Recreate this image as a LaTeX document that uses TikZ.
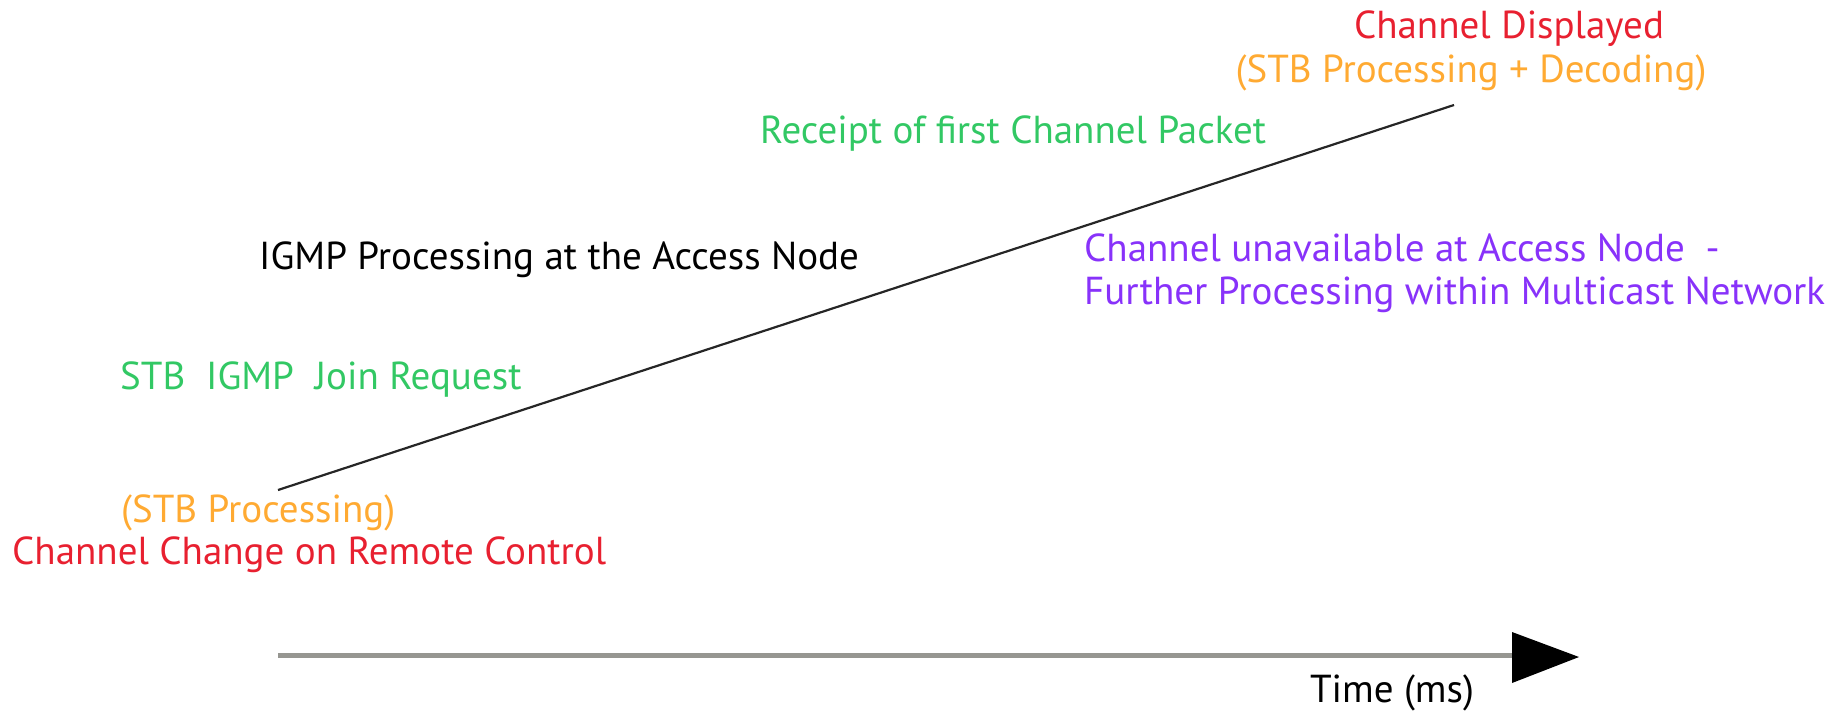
\documentclass[tikz,border=0pt]{standalone}
\usepackage{fontspec}
\setmainfont{PT Sans}
\definecolor{cred}{RGB}{232,32,48}
\definecolor{corange}{RGB}{255,170,50}
\definecolor{cgreen}{RGB}{50,200,100}
\definecolor{cpurple}{RGB}{136,50,250}
\definecolor{caxis}{RGB}{150,150,145}
\begin{document}
\begin{tikzpicture}[x=1pt,y=-1pt,
  lbl/.style={inner sep=0pt, font=\fontsize{39}{43}\selectfont},
  l/.style={lbl, anchor=west}]
\useasboundingbox (0,0) rectangle (1831,713);
% top right
\node[lbl, text=cred] (disp) at (1509,29) {Channel Displayed};
\node[lbl, text=corange] (dec) at (1471,73) {(STB Processing + Decoding)};
\node[l, text=cgreen] (rcpt) at (760,134) {Receipt of first Channel Packet};
\node[l] (igmp) at (259,260) {IGMP Processing at the Access Node};
\node[l, text=cpurple, align=left] (unav) at (1084,273) {Channel unavailable at Access Node\ \ -\\Further Processing within Multicast Network};
\node[l, text=cgreen] (join) at (120,380) {STB\ \ IGMP\ \ Join Request};
\node[l, text=corange] (stbp) at (121,513) {(STB Processing)};
\node[l, text=cred] (chg) at (12,555) {Channel Change on Remote Control};
% diagonal
\coordinate (s) at (278,490);
\coordinate (e) at (1454,105);
\draw[line width=2.2pt, black!85] (s) -- (e);
% time axis
\coordinate (t0) at (278,655);
\coordinate (t1) at (1512,655);
\coordinate (tip) at (1579,657);
\draw[line width=5pt, caxis] (t0) -- (t1);
\fill[black] (1512,632) -- (tip) -- (1512,683) -- cycle;
\node[lbl, text=black, anchor=south] (time) at (1392,711) {Time (ms)};
\end{tikzpicture}
\end{document}
